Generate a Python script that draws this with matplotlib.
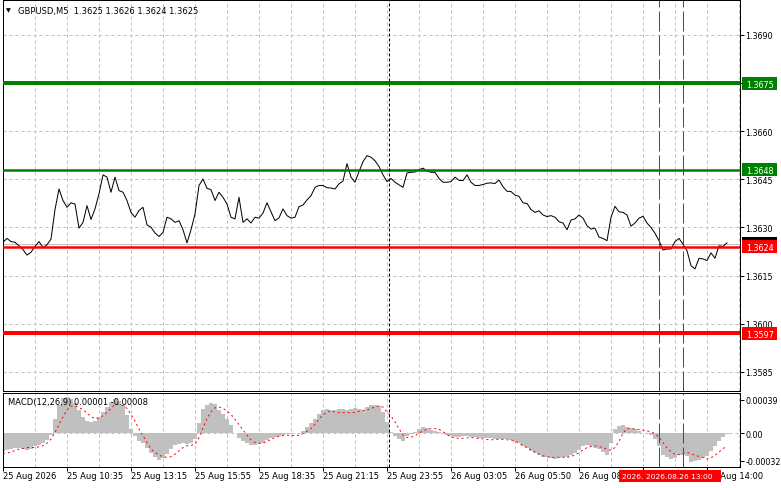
import numpy as np
import matplotlib
matplotlib.use("Agg")
import matplotlib.pyplot as plt
from matplotlib.transforms import IdentityTransform
from matplotlib.patches import Rectangle

plt.rcParams['font.family'] = ['DejaVu Sans']
plt.rcParams['font.size'] = 6

symbol_title = "GBPUSD,M5  1.3625 1.3626 1.3624 1.3625"
macd_title = "MACD(12,26,9) 0.00001 -0.00008"

# close prices, one value per 10 minutes (2 M5 bars)
price = [
    1.36254, 1.36266, 1.36256, 1.36254, 1.36243, 1.36231, 1.36214, 1.36223, 1.36241, 1.36256,
    1.36238, 1.36246, 1.36264, 1.36356, 1.36420, 1.36384, 1.36363, 1.36377, 1.36373, 1.36298,
    1.36316, 1.36368, 1.36325, 1.36358, 1.36405, 1.36464, 1.36457, 1.36410, 1.36457, 1.36415,
    1.36410, 1.36384, 1.36347, 1.36332, 1.36353, 1.36363, 1.36308, 1.36301, 1.36283, 1.36272,
    1.36285, 1.36332, 1.36327, 1.36316, 1.36321, 1.36293, 1.36252, 1.36293, 1.36342, 1.36431,
    1.36451, 1.36422, 1.36418, 1.36384, 1.36410, 1.36394, 1.36373, 1.36332, 1.36327, 1.36394,
    1.36316, 1.36327,
    1.36314, 1.36332, 1.36329, 1.36345, 1.36377, 1.36349, 1.36321, 1.36330, 1.36358, 1.36337,
    1.36329, 1.36332, 1.36365, 1.36370, 1.36386, 1.36399, 1.36425, 1.36431, 1.36431, 1.36424,
    1.36423, 1.36420, 1.36436, 1.36445, 1.36499, 1.36457, 1.36441, 1.36474, 1.36505, 1.36524,
    1.36519, 1.36508, 1.36490, 1.36464, 1.36443, 1.36453, 1.36441, 1.36433, 1.36425, 1.36470,
    1.36472, 1.36473, 1.36480, 1.36485, 1.36476, 1.36472, 1.36472, 1.36453, 1.36441, 1.36441,
    1.36443, 1.36457, 1.36447, 1.36446, 1.36464, 1.36441, 1.36431, 1.36431, 1.36434, 1.36438,
    1.36439, 1.36437, 1.36448, 1.36427, 1.36413, 1.36412, 1.36401, 1.36397, 1.36377, 1.36375,
    1.36356, 1.36347, 1.36352, 1.36339, 1.36334, 1.36337, 1.36332, 1.36318, 1.36314, 1.36293,
    1.36323, 1.36327, 1.36339, 1.36329, 1.36306, 1.36295, 1.36298, 1.36270, 1.36266, 1.36259,
    1.36332, 1.36366, 1.36349, 1.36347, 1.36339, 1.36304, 1.36314, 1.36329, 1.36335, 1.36314,
    1.36300, 1.36282, 1.36259, 1.36230, 1.36233, 1.36233, 1.36256, 1.36266, 1.36248, 1.36228,
    1.36181, 1.36171, 1.36204, 1.36202, 1.36197, 1.36221, 1.36204, 1.36243, 1.36241, 1.36252,
]

macd_hist = [
    -0.000223, -0.000200, -0.000185, -0.000177, -0.000166, -0.000181, -0.000200, -0.000181, -0.000154, -0.000135,
    -0.000108, -0.000077, -0.000023, 0.000162, 0.000331, 0.000408, 0.000424, 0.000400, 0.000354, 0.000270,
    0.000193, 0.000146, 0.000127, 0.000142, 0.000189, 0.000246, 0.000308, 0.000362, 0.000393, 0.000377,
    0.000327, 0.000216, 0.000054, -0.000035, -0.000085, -0.000108, -0.000169, -0.000231, -0.000281, -0.000312,
    -0.000285, -0.000239, -0.000181, -0.000139, -0.000123, -0.000108, -0.000123, -0.000116, -0.000069, 0.000123,
    0.000285, 0.000327, 0.000350, 0.000335, 0.000273, 0.000223, 0.000169, 0.000096, 0.000000, -0.000054,
    -0.000085, -0.000116, -0.000139, -0.000139, -0.000123, -0.000108, -0.000081, -0.000058, -0.000046, -0.000035,
    -0.000023, -0.000012, -0.000008, 0.000000, 0.000008, 0.000027, 0.000069, 0.000116, 0.000169, 0.000227,
    0.000266, 0.000277, 0.000273, 0.000273, 0.000277, 0.000285, 0.000273, 0.000285, 0.000293, 0.000277,
    0.000270, 0.000304, 0.000327, 0.000331, 0.000316, 0.000246, 0.000131, 0.000015, -0.000031, -0.000065,
    -0.000089, -0.000031, -0.000008, 0.000015, 0.000054, 0.000073, 0.000065, 0.000042, 0.000027, 0.000012,
    -0.000004, -0.000019, -0.000031, -0.000039, -0.000039, -0.000035, -0.000031, -0.000039, -0.000046, -0.000050,
    -0.000050, -0.000050, -0.000058, -0.000065, -0.000069, -0.000069, -0.000069, -0.000081, -0.000100, -0.000119,
    -0.000146, -0.000166, -0.000204, -0.000235, -0.000258, -0.000273, -0.000281, -0.000293, -0.000296, -0.000285,
    -0.000281, -0.000281, -0.000258, -0.000231, -0.000196, -0.000150, -0.000139, -0.000154, -0.000173, -0.000189,
    -0.000219, -0.000250, -0.000108, 0.000046, 0.000085, 0.000092, 0.000073, 0.000058, 0.000046, 0.000023,
    0.000000, -0.000008, -0.000023, -0.000062, -0.000146, -0.000254, -0.000281, -0.000296, -0.000293, -0.000258,
    -0.000250, -0.000266, -0.000331, -0.000327, -0.000312, -0.000293, -0.000262, -0.000212, -0.000154, -0.000092,
    -0.000039, -0.000012,
]

macd_signal = [
    -0.000243, -0.000231, -0.000219, -0.000200, -0.000185, -0.000177, -0.000166, -0.000166, -0.000166, -0.000158,
    -0.000146, -0.000116, -0.000069, 0.000008, 0.000100, 0.000193, 0.000270, 0.000316, 0.000316, 0.000300,
    0.000273, 0.000235, 0.000193, 0.000169, 0.000177, 0.000204, 0.000243, 0.000289, 0.000335, 0.000335,
    0.000323, 0.000289, 0.000219, 0.000142, 0.000050, -0.000031, -0.000108, -0.000185, -0.000223, -0.000254,
    -0.000273, -0.000281, -0.000273, -0.000243, -0.000204, -0.000166, -0.000146, -0.000142, -0.000127, -0.000050,
    0.000062, 0.000169, 0.000250, 0.000296, 0.000304, 0.000289, 0.000258, 0.000219, 0.000162, 0.000100,
    0.000039, -0.000023, -0.000077, -0.000108, -0.000116, -0.000116, -0.000096, -0.000073, -0.000050, -0.000035,
    -0.000027, -0.000023, -0.000023, -0.000031, -0.000023, -0.000004, 0.000023, 0.000054, 0.000104, 0.000166,
    0.000212, 0.000246, 0.000258, 0.000246, 0.000239, 0.000239, 0.000239, 0.000239, 0.000243, 0.000254,
    0.000266, 0.000270, 0.000289, 0.000304, 0.000320, 0.000304, 0.000246, 0.000200, 0.000131, 0.000054,
    -0.000023, -0.000050, -0.000046, -0.000031, 0.000004, 0.000027, 0.000046, 0.000054, 0.000054, 0.000046,
    0.000019, -0.000015, -0.000046, -0.000054, -0.000062, -0.000058, -0.000054, -0.000050, -0.000054, -0.000062,
    -0.000065, -0.000073, -0.000077, -0.000073, -0.000069, -0.000073, -0.000077, -0.000077, -0.000092, -0.000116,
    -0.000142, -0.000166, -0.000193, -0.000219, -0.000243, -0.000262, -0.000273, -0.000281, -0.000281, -0.000281,
    -0.000281, -0.000281, -0.000270, -0.000254, -0.000227, -0.000196, -0.000166, -0.000154, -0.000146, -0.000154,
    -0.000170, -0.000185, -0.000200, -0.000166, -0.000092, 0.000000, 0.000054, 0.000054, 0.000050, 0.000042,
    0.000035, 0.000027, 0.000015, -0.000004, -0.000050, -0.000108, -0.000170, -0.000216, -0.000246, -0.000250,
    -0.000235, -0.000223, -0.000239, -0.000254, -0.000270, -0.000285, -0.000300, -0.000285, -0.000258, -0.000219,
    -0.000177, -0.000154,
]

time_labels = ["25 Aug 2026", "25 Aug 10:35", "25 Aug 13:15", "25 Aug 15:55", "25 Aug 18:35",
               "25 Aug 21:15", "25 Aug 23:55", "26 Aug 03:05", "26 Aug 05:50", "26 Aug 08:30",
               "26 Aug 11:20", "26 Aug 14:00"]
label_step = 16
grid_step = 8
price_ticks = [1.3585, 1.3600, 1.3615, 1.3630, 1.3645, 1.3660, 1.3675, 1.3690]
macd_ticks = [0.00039, 0.0, -0.00032]
macd_tick_labels = ["0.00039", "0.00", "-0.00032"]
resistance_levels = [1.3675, 1.3648]
support_levels = [1.3624, 1.3597]
bid_price = 1.3625
day_separator = 96.5
event_idx = [164, 170]
event_labels = ["2026.08.26 12:00", "2026.08.26 13:00"]

W, H = 781, 489
fig = plt.figure(figsize=(W / 100, H / 100), dpi=100)
fig.patch.set_facecolor('white')


def rect(l, t, r, b):
    return [l / W, 1 - b / H, (r - l) / W, (b - t) / H]


ax = fig.add_axes(rect(2.5, 1, 740, 391.5))
ax2 = fig.add_axes(rect(2.5, 393.5, 740, 467.5))
LW = 0.72
GRID = '#C0C0C0'
xmax = 184.25
RFS = 5.8  # right scale font size

for a in (ax, ax2):
    a.set_xlim(-0.125, xmax)
    a.set_facecolor('white')
    for s in a.spines.values():
        s.set_color('black')
        s.set_linewidth(LW)
    a.set_xticks(np.arange(0, len(time_labels) * label_step, label_step))
    a.set_xticks(np.arange(grid_step, xmax, label_step), minor=True)
    a.grid(True, axis='x', which='both', color=GRID, linestyle=(0, (3, 3)), linewidth=LW)
    a.set_axisbelow(True)

# ---- price panel
xi = np.arange(len(price))
ax.set_ylim(1.35792, 1.37009)
ax.set_yticks(price_ticks)
ax.set_yticklabels([f"{v:.4f}" for v in price_ticks])
ax.yaxis.tick_right()
ax.grid(True, axis='y', color=GRID, linestyle=(0, (3, 3)), linewidth=LW)
ax.tick_params(axis='y', direction='out', length=2.88, width=LW, pad=1.1, labelsize=RFS, colors='black')
ax.tick_params(axis='x', which='both', length=0, labelbottom=False)
ax.axhline(bid_price, color=GRID, lw=LW, zorder=2)
ax.plot(xi, price, color='black', lw=LW, zorder=3)
for lv, w in zip(resistance_levels, [2.88, 1.8]):
    ax.axhline(lv, color='#008000', lw=w, zorder=4)
for lv, w in zip(support_levels, [1.8, 2.88]):
    ax.axhline(lv, color='#FF0000', lw=w, zorder=4)

# ---- MACD panel
ax2.set_ylim(-0.000387, 0.000474)
ax2.axhline(0, color=GRID, lw=LW, linestyle=(0, (3, 3)), zorder=1)
ax2.bar(np.arange(len(macd_hist)), macd_hist, width=1.0, color='#C0C0C0', linewidth=0, zorder=2)
ax2.plot(np.arange(len(macd_signal)), macd_signal, color='#FF0000', lw=LW,
         linestyle=(0, (2, 3)), zorder=3)
ax2.yaxis.tick_right()
ax2.set_yticks(macd_ticks)
ax2.set_yticklabels(macd_tick_labels)
ax2.tick_params(axis='y', direction='out', length=2.88, width=LW, pad=1.1, labelsize=RFS, colors='black')
ax2.set_xticklabels(time_labels)
ax2.tick_params(axis='x', which='major', direction='out', length=2.88, width=LW, pad=0.3, labelsize=6)
ax2.tick_params(axis='x', which='minor', length=0)
for lbl in ax2.get_xticklabels():
    lbl.set_horizontalalignment('left')

# vertical markers
for a in (ax, ax2):
    a.axvline(day_separator, color='black', lw=LW, linestyle=(0, (3, 2)), zorder=5)
    for e in event_idx:
        a.axvline(e, color='#FF0000', lw=LW, linestyle=(0, (20, 4)), zorder=6)

ID = IdentityTransform()


def price_box(axis, val, text, color, z):
    yd = axis.transData.transform((0, val))[1]
    fig.add_artist(Rectangle((742, yd - 6.5), 35, 13, transform=ID, facecolor=color,
                             edgecolor='none', zorder=z))
    fig.text(746, yd, text, transform=ID, ha='left', va='center_baseline',
             color='white', fontsize=RFS, zorder=z + 0.5)


price_box(ax, bid_price, f"{bid_price:.4f}", 'black', 10)
for lv in resistance_levels:
    price_box(ax, lv, f"{lv:.4f}", '#008000', 11)
for lv in support_levels:
    price_box(ax, lv, f"{lv:.4f}", '#FF0000', 11)

# time boxes of the vertical lines
for i, (e, lab) in enumerate(zip(event_idx, event_labels)):
    xd = ax2.transData.transform((e, 0))[0]
    fig.add_artist(Rectangle((xd - 40, 6), 78, 12, transform=ID, facecolor='#FF0000',
                             edgecolor='none', zorder=12 + i))
    fig.text(xd - 37, 12.3, lab, transform=ID, ha='left', va='center_baseline',
             color='white', fontsize=5.4, zorder=12.5 + i)

# titles
fig.text(8, H - 11, "\u25BC", transform=ID, ha='center', va='center', fontsize=4.5, color='black')
fig.text(18, H - 11, symbol_title, transform=ID, ha='left', va='center_baseline', fontsize=6)
fig.text(7.7, H - 402, macd_title, transform=ID, ha='left', va='center_baseline', fontsize=6)

fig.savefig("out.png", dpi=100, facecolor='white')
